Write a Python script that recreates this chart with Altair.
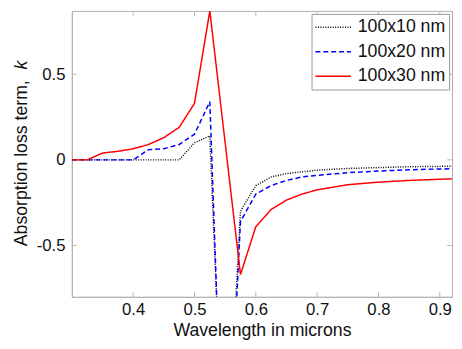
import altair as alt
import pandas as pd

wavelength = [0.3, 0.325, 0.35, 0.375, 0.4, 0.425, 0.45, 0.475, 0.5, 0.525, 0.55,
              0.575, 0.6, 0.625, 0.65, 0.675, 0.7, 0.75, 0.8, 0.85, 0.9, 0.925]
k_100x10 = [0, 0, 0, 0, 0, 0, 0, 0, 0.10, 0.14, -2.0,
            -0.30, -0.15, -0.10, -0.08, -0.07, -0.06, -0.05, -0.045, -0.04, -0.038, -0.037]
k_100x20 = [0, 0, 0, 0, 0, 0.06, 0.065, 0.09, 0.15, 0.34, -2.2,
            -0.36, -0.20, -0.15, -0.12, -0.10, -0.09, -0.075, -0.065, -0.058, -0.053, -0.052]
k_100x30 = [0, 0, 0.04, 0.05, 0.065, 0.09, 0.13, 0.19, 0.33, 0.87, 0.10,
            -0.67, -0.39, -0.29, -0.235, -0.20, -0.175, -0.145, -0.13, -0.12, -0.113, -0.11]
series_names = ["100x10 nm", "100x20 nm", "100x30 nm"]
series_colors = ["#000000", "#0000ff", "#ff0000"]
series_dashes = [[1, 1.5], [5, 3], [1, 0]]
x_ticks = [0.4, 0.5, 0.6, 0.7, 0.8, 0.9]
y_ticks = [-0.5, 0, 0.5]
y_title_main = "Absorption loss term,"
y_title_symbol = ["k"]

rows = []
for name, vals in zip(series_names, [k_100x10, k_100x20, k_100x30]):
    for w, v in zip(wavelength, vals):
        rows.append({"wl": w, "k": v, "series": name})
df = pd.DataFrame(rows)

W, H = 387, 291
FONT = "Liberation Sans"
TICKC = "#b8b8b8"
TEXTC = "#111111"

xscale = alt.Scale(domain=[0.3, 0.92], nice=False, zero=False)
yscale = alt.Scale(domain=[-0.8, 0.87], nice=False, zero=False)

lines = alt.Chart(df).mark_line(clip=True, strokeWidth=1.5).encode(
    x=alt.X("wl:Q", scale=xscale, title="Wavelength in microns",
            axis=alt.Axis(values=x_ticks, format=".1f", ticks=False, grid=False,
                          labelPadding=5, titlePadding=4)),
    y=alt.Y("k:Q", scale=yscale, title=y_title_main,
            axis=alt.Axis(values=y_ticks, ticks=False, grid=False, labelPadding=7,
                          titleX=-51, titleY=70, titleAlign="right",
                          titleBaseline="middle", titleAngle=270,
                          labelExpr="datum.value == 0 ? '0' : (datum.value < 0 ? '-' + format(-datum.value, '.1f') : format(datum.value, '.1f'))")),
    color=alt.Color("series:N", scale=alt.Scale(domain=series_names, range=series_colors),
                    title=None,
                    legend=alt.Legend(orient="none", legendX=244, legendY=3,
                                      symbolType="stroke", symbolSize=1296,
                                      symbolStrokeWidth=1.5, labelFontSize=18,
                                      labelFont=FONT, labelColor=TEXTC,
                                      strokeColor="#999999", fillColor="white",
                                      padding=3, rowPadding=4, clipHeight=21,
                                      labelOffset=6)),
    strokeDash=alt.StrokeDash("series:N",
                              scale=alt.Scale(domain=series_names, range=series_dashes),
                              legend=None),
    order=alt.Order("wl:Q"),
)

k_label = alt.Chart(pd.DataFrame({"t": y_title_symbol})).mark_text(
    angle=270, fontStyle="italic", font=FONT, fontSize=18, color=TEXTC,
    baseline="middle", align="center",
).encode(text="t:N", x=alt.value(-51), y=alt.value(55))

xt = pd.DataFrame({"wl": x_ticks})
yt = pd.DataFrame({"k": y_ticks})
bottom_ticks = alt.Chart(xt).mark_rule(color=TICKC, strokeWidth=1).encode(
    x="wl:Q", y=alt.value(H), y2=alt.value(H - 5))
top_ticks = alt.Chart(xt).mark_rule(color=TICKC, strokeWidth=1).encode(
    x="wl:Q", y=alt.value(0), y2=alt.value(5))
left_ticks = alt.Chart(yt).mark_rule(color=TICKC, strokeWidth=1).encode(
    y="k:Q", x=alt.value(0), x2=alt.value(5))
right_ticks = alt.Chart(yt).mark_rule(color=TICKC, strokeWidth=1).encode(
    y="k:Q", x=alt.value(W), x2=alt.value(W - 5))

chart = alt.layer(bottom_ticks, top_ticks, left_ticks, right_ticks, lines, k_label).properties(
    width=W, height=H,
    autosize=alt.AutoSizeParams(type="none"),
    padding={"left": 65, "top": 0, "right": 2, "bottom": 45},
    background="white",
).configure_view(stroke="#b0b0b0", strokeWidth=1).configure_axis(
    domainColor="#b0b0b0", labelFont=FONT, titleFont=FONT, labelFontSize=17,
    titleFontSize=18, labelColor=TEXTC, titleColor=TEXTC,
    titleFontWeight="normal",
)

chart.save("out.html", embed_options={"renderer": "svg", "actions": False})
